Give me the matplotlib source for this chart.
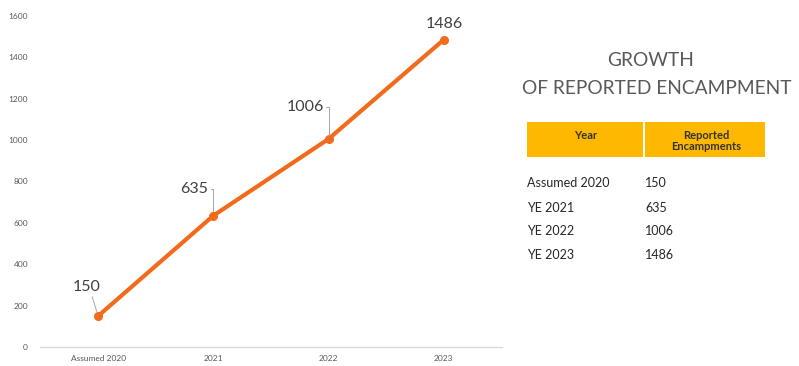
import matplotlib.pyplot as plt
from matplotlib.patches import Rectangle

# data
categories = ["Assumed 2020", "2021", "2022", "2023"]
encampments = [150, 635, 1006, 1486]
table_years = ["Assumed 2020", "YE 2021", "YE 2022", "YE 2023"]
table_values = ["150", "635", "1006", "1486"]
yticks = [0, 200, 400, 600, 800, 1000, 1200, 1400, 1600]

plt.rcParams['font.family'] = ['Lato', 'DejaVu Sans']

W, H = 799, 366
fig = plt.figure(figsize=(W / 100, H / 100), dpi=100)
ax = fig.add_axes([40.5 / W, 19 / H, 461 / W, 331 / H])

x = list(range(len(categories)))
orange = "#F26B1D"
ax.plot(x, encampments, color=orange, lw=3.0, marker='o', ms=5.5,
        solid_capstyle='round', zorder=3)

ax.set_xlim(-0.5, len(categories) - 0.5)
ax.set_ylim(0, 1600)
ax.set_xticks(x)
ax.set_xticklabels(categories, fontsize=6, color="#595959")
ax.set_yticks(yticks)
ax.set_yticklabels([str(v) for v in yticks], fontsize=6, color="#595959")
ax.tick_params(length=0, pad=9)
ax.tick_params(axis='x', pad=6)
for s in ["top", "right", "left"]:
    ax.spines[s].set_visible(False)
ax.spines["bottom"].set_color("#d9d9d9")
ax.spines["bottom"].set_linewidth(1.0)

# data labels with leader lines
lab_kw = dict(fontsize=11.5, color="#404040", textcoords='offset pixels')
lead = dict(arrowstyle='-', color="#a6a6a6", lw=0.7, shrinkA=0, shrinkB=3)
ax.annotate(str(encampments[0]), (x[0], encampments[0]), xytext=(-11, 29),
            ha='center', va='center',
            arrowprops=dict(lead, relpos=(0.65, 0.0)), **lab_kw)
ax.annotate(str(encampments[1]), (x[1], encampments[1]), xytext=(-5, 27),
            ha='right', va='center',
            arrowprops=dict(lead, relpos=(1.0, 0.5),
                            connectionstyle="angle,angleA=0,angleB=90,rad=0"),
            **lab_kw)
ax.annotate(str(encampments[2]), (x[2], encampments[2]), xytext=(-5, 32),
            ha='right', va='center',
            arrowprops=dict(lead, relpos=(1.0, 0.5),
                            connectionstyle="angle,angleA=0,angleB=90,rad=0"),
            **lab_kw)
ax.annotate(str(encampments[3]), (x[3], encampments[3]), xytext=(0, 16),
            ha='center', va='center', **lab_kw)

# right-hand title
def fx(px):
    return px / W

def fy(py):
    return 1 - py / H

fig.text(fx(651), fy(61), "GROWTH", fontsize=13.8, color="#595959",
         ha='center', va='center')
fig.text(fx(657), fy(88), "OF REPORTED ENCAMPMENT", fontsize=13.8,
         color="#595959", ha='center', va='center')

# table header
gold = "#FFB800"
fig.add_artist(Rectangle((fx(527), fy(157)), fx(643) - fx(527), fy(122) - fy(157),
                         transform=fig.transFigure, color=gold, lw=0))
fig.add_artist(Rectangle((fx(645), fy(157)), fx(765) - fx(645), fy(122) - fy(157),
                         transform=fig.transFigure, color=gold, lw=0))
fig.text(fx(586), fy(135), "Year", fontsize=8, fontweight='bold',
         color="#333333", ha='center', va='center')
fig.text(fx(706), fy(141), "Reported\nEncampments", fontsize=8,
         fontweight='bold', color="#333333", ha='center', va='center',
         linespacing=1.05)

row_y = [183, 208, 231, 255]
for yr, val, py in zip(table_years, table_values, row_y):
    fig.text(fx(527), fy(py), yr, fontsize=9, color="#262626",
             ha='left', va='center')
    fig.text(fx(645), fy(py), val, fontsize=9, color="#262626",
             ha='left', va='center')

fig.savefig("out.png", dpi=100)
